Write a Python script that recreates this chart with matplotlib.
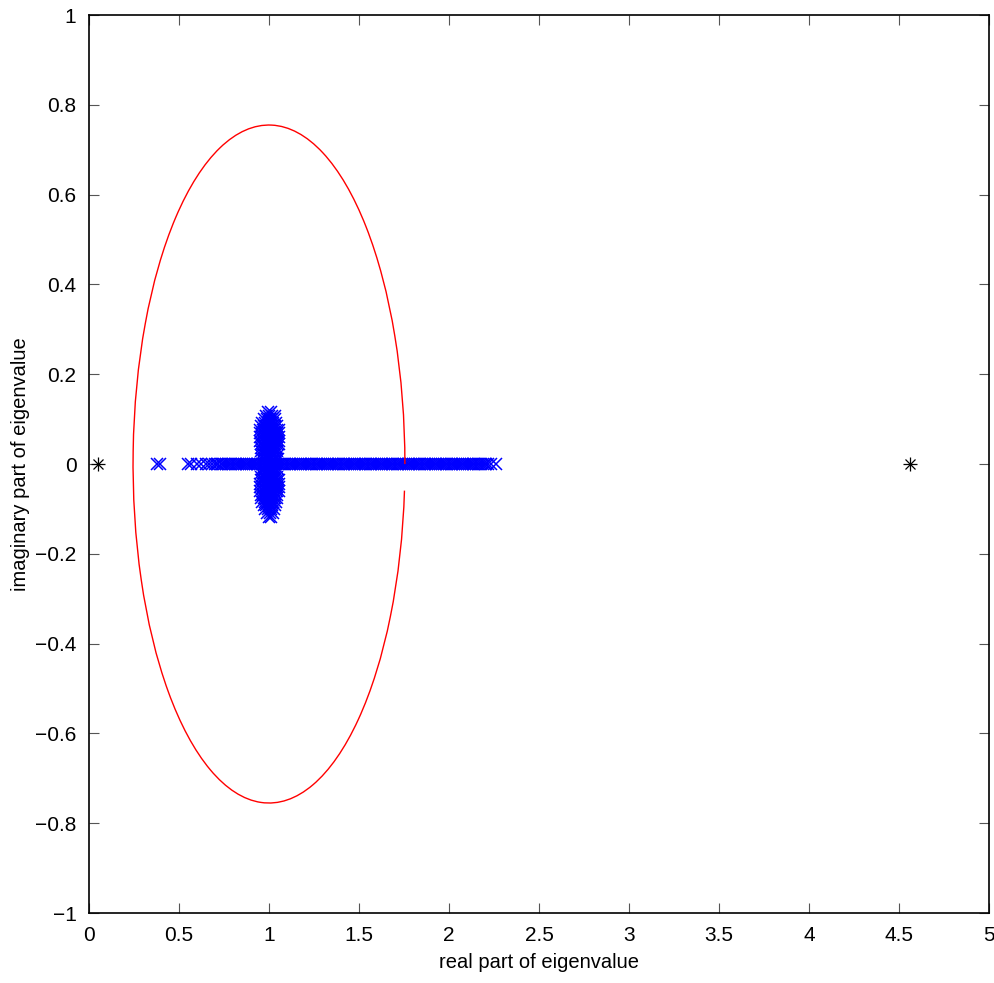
import matplotlib
matplotlib.use("Agg")
import matplotlib.pyplot as plt
from matplotlib.patches import Arc

plt.rcParams['font.family'] = ['Liberation Sans', 'DejaVu Sans']

# Eigenvalues lying on the real axis (imaginary part ~ 0)
real_axis_re = [0.378, 0.392, 0.548, 0.566, 0.598, 0.622, 0.652, 0.668, 0.683,
    0.700, 0.711, 0.719, 0.731, 0.740, 0.749, 0.761, 0.770, 0.781, 0.789,
    0.800, 0.811, 0.819, 0.830, 0.841, 0.849, 0.860, 0.871, 0.879, 0.890,
    0.901, 0.909, 0.920, 0.931, 0.939, 0.950, 0.961, 0.969, 0.980, 0.991,
    0.999, 1.010, 1.021, 1.029, 1.040, 1.051, 1.059, 1.070, 1.081, 1.089,
    1.100, 1.111, 1.119, 1.130, 1.141, 1.149, 1.160, 1.171, 1.179, 1.190,
    1.201, 1.209, 1.220, 1.231, 1.239, 1.250, 1.261, 1.269, 1.280, 1.291,
    1.299, 1.310, 1.321, 1.329, 1.340, 1.351, 1.359, 1.370, 1.381, 1.389,
    1.400, 1.411, 1.419, 1.430, 1.441, 1.449, 1.460, 1.471, 1.479, 1.490,
    1.501, 1.509, 1.520, 1.531, 1.539, 1.550, 1.561, 1.569, 1.580, 1.591,
    1.599, 1.610, 1.621, 1.629, 1.640, 1.651, 1.659, 1.670, 1.681, 1.689,
    1.700, 1.711, 1.719, 1.730, 1.741, 1.749, 1.760, 1.771, 1.779, 1.790,
    1.801, 1.809, 1.820, 1.831, 1.839, 1.850, 1.861, 1.869, 1.880, 1.891,
    1.899, 1.910, 1.921, 1.929, 1.940, 1.951, 1.959, 1.970, 1.981, 1.989,
    2.000, 2.011, 2.019, 2.030, 2.041, 2.049, 2.060, 2.071, 2.079, 2.090,
    2.101, 2.109, 2.120, 2.131, 2.139, 2.150, 2.161, 2.169, 2.180, 2.191,
    2.199, 2.208, 2.217, 2.236, 2.262]
real_axis_im = [0.0] * len(real_axis_re)

# Cluster of complex eigenvalues around 1: imaginary level and the real parts on it
cluster_im_levels = [0.116, 0.108, 0.100, 0.092, 0.084, 0.076, 0.068, 0.060,
                     0.052, 0.044, 0.036, 0.028, 0.020, 0.012,
                     -0.012, -0.020, -0.028, -0.036, -0.044, -0.052, -0.060,
                     -0.068, -0.076, -0.084, -0.092, -0.100, -0.108, -0.117]
cluster_re_rows = [
    [0.996, 1.013],
    [0.984, 0.999, 1.016, 1.031],
    [0.971, 0.987, 1.003, 1.019, 1.036],
    [0.962, 0.977, 0.993, 1.008, 1.024, 1.041],
    [0.956, 0.971, 0.986, 1.002, 1.017, 1.033, 1.047],
    [0.952, 0.967, 0.982, 0.998, 1.013, 1.029, 1.044, 1.054],
    [0.950, 0.965, 0.981, 0.996, 1.012, 1.027, 1.043, 1.055],
    [0.949, 0.964, 0.980, 0.995, 1.011, 1.026, 1.042, 1.055],
    [0.951, 0.966, 0.981, 0.997, 1.012, 1.028, 1.043, 1.054],
    [0.953, 0.968, 0.983, 0.999, 1.014, 1.030, 1.045, 1.053],
    [0.955, 0.970, 0.985, 1.001, 1.016, 1.031, 1.046],
    [0.957, 0.972, 0.987, 1.003, 1.018, 1.033, 1.047],
    [0.958, 0.973, 0.989, 1.004, 1.020, 1.035, 1.048],
    [0.960, 0.975, 0.991, 1.006, 1.022, 1.037, 1.049],
    [0.959, 0.974, 0.990, 1.005, 1.021, 1.036, 1.048],
    [0.957, 0.972, 0.988, 1.003, 1.019, 1.034, 1.047],
    [0.955, 0.970, 0.986, 1.001, 1.017, 1.032, 1.046],
    [0.953, 0.968, 0.984, 0.999, 1.015, 1.030, 1.045, 1.053],
    [0.951, 0.966, 0.982, 0.997, 1.013, 1.028, 1.044, 1.054],
    [0.950, 0.965, 0.981, 0.996, 1.012, 1.027, 1.043, 1.055],
    [0.951, 0.966, 0.982, 0.997, 1.013, 1.028, 1.044, 1.054],
    [0.953, 0.968, 0.984, 0.999, 1.015, 1.030, 1.046],
    [0.957, 0.972, 0.987, 1.003, 1.018, 1.034, 1.047],
    [0.962, 0.978, 0.993, 1.009, 1.024, 1.040],
    [0.970, 0.986, 1.001, 1.017, 1.032],
    [0.980, 0.996, 1.011, 1.027],
    [0.990, 1.006, 1.020],
    [1.001, 1.014],
]

# Extreme eigenvalues (black asterisks)
extreme_re = [0.052, 4.56]
extreme_im = [0.0, 0.0]

# Enclosing circle (center, radius) and its drawn angular extent (degrees)
circle_center = (1.0, 0.0)
circle_radius = 0.755
circle_theta = (0.0, 355.5)

cluster_re = []
cluster_im = []
for lvl, row in zip(cluster_im_levels, cluster_re_rows):
    cluster_re.extend(row)
    cluster_im.extend([lvl] * len(row))

fig = plt.figure(figsize=(9.94, 9.83), dpi=100)
ax = fig.add_axes([0.0895, 0.0712, 0.9055, 0.9135])

arc = Arc(circle_center, 2 * circle_radius, 2 * circle_radius,
          theta1=circle_theta[0], theta2=circle_theta[1],
          color='red', lw=1.0, zorder=3)
ax.add_patch(arc)

mk = dict(linestyle='none', marker='x', color='blue', markersize=9,
          markeredgewidth=1.1, zorder=2)
ax.plot(real_axis_re, real_axis_im, **mk)
ax.plot(cluster_re, cluster_im, **mk)
ax.plot(extreme_re, extreme_im, '+', color='black', markersize=9.5,
        markeredgewidth=0.9, zorder=4)
ax.plot(extreme_re, extreme_im, 'x', color='black', markersize=7,
        markeredgewidth=0.9, zorder=4)

ax.set_xlim(0, 5)
ax.set_ylim(-1, 1)
xticks = [0, 0.5, 1, 1.5, 2, 2.5, 3, 3.5, 4, 4.5, 5]
yticks = [-1, -0.8, -0.6, -0.4, -0.2, 0, 0.2, 0.4, 0.6, 0.8, 1]
ax.set_xticks(xticks)
ax.set_xticklabels(['0', '0.5', '1', '1.5', '2', '2.5', '3', '3.5', '4', '4.5', '5'])
ax.set_yticks(yticks)
ax.set_yticklabels(['\u22121', '\u22120.8', '\u22120.6', '\u22120.4', '\u22120.2', '0',
                    '0.2', '0.4', '0.6', '0.8', '1'])
ax.tick_params(direction='in', length=7, width=0.8, color='#555555',
               top=True, right=True, labelsize=15, pad=9)
for s in ax.spines.values():
    s.set_linewidth(1.2)

ax.set_xlabel('real part of eigenvalue', fontsize=14.5, labelpad=6)
ax.set_ylabel('imaginary part of eigenvalue', fontsize=14.5, labelpad=4)

fig.savefig('out.png', dpi=100)
